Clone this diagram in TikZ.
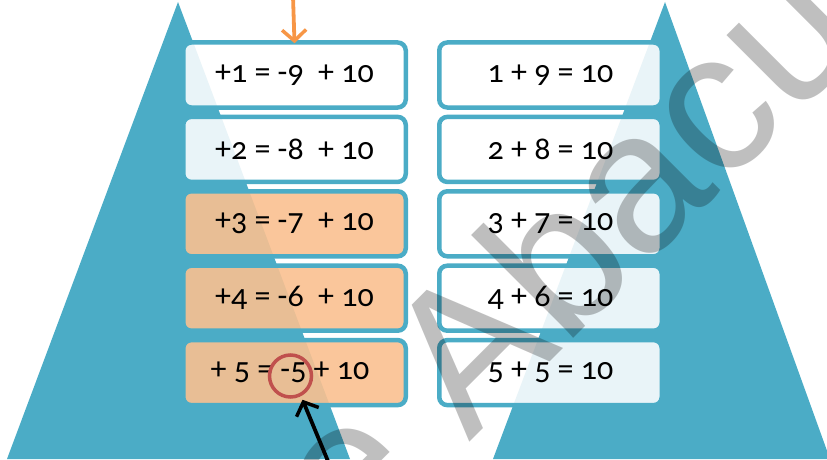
\documentclass[tikz,border=0pt]{standalone}
\usepackage{fontspec}
\setmainfont{Carlito}[Numbers=OldStyle]
\newfontfamily\wmfont{Liberation Sans}
\usetikzlibrary{arrows.meta}
\definecolor{tealA}{HTML}{4BACC6}
\definecolor{peachA}{HTML}{FAC090}
\definecolor{redA}{HTML}{C0504D}
\definecolor{orangeA}{HTML}{F79646}
\tikzset{
  eqbox/.style={draw=tealA, line width=4.5pt, rounded corners=8pt, fill=white, fill opacity=0.88, text opacity=1,
    minimum width=222.5pt, minimum height=65pt, inner sep=0pt, font=\fontsize{32}{36}\selectfont},
  hotbox/.style={eqbox, fill=peachA, fill opacity=0.9},
  tri/.style={fill=tealA, draw=none},
  barb/.style={-{Straight Barb[length=11pt,width=24pt,line width=3.5pt]}, line width=3.8pt},
}
\begin{document}
\begin{tikzpicture}[x=1pt,y=-1pt]
\useasboundingbox (0,0) rectangle (827,460);
\clip (0,0) rectangle (827,460);
% triangles
\fill[tri] (7,459) -- (178,2) -- (350,459) -- cycle;
\fill[tri] (493,459) -- (665,2) -- (830,459) -- cycle;
% left column
\node[eqbox]  (L1) at (294.5,75)    {+1 = -9\ \ + 10};
\node[eqbox]  (L2) at (294.5,149.4) {+2 = -8\ \ + 10};
\node[hotbox] (L3) at (294.5,223.8) {+3 = -7\ \ + 10};
\node[hotbox] (L4) at (294.5,298.2) {+4 = -6\ \ + 10};
\node[hotbox] (L5) at (294.5,372.6) {+ 5 = -5 + 10\hspace*{9pt}};
% right column
\node[eqbox] (R1) at (550.5,75)    {1 + 9 = 10};
\node[eqbox] (R2) at (550.5,149.4) {2 + 8 = 10};
\node[eqbox] (R3) at (550.5,223.8) {3 + 7 = 10};
\node[eqbox] (R4) at (550.5,298.2) {4 + 6 = 10};
\node[eqbox] (R5) at (550.5,372.6) {5 + 5 = 10};
% red circle
\node[draw=redA, line width=3.5pt, circle, minimum size=42pt, inner sep=0pt] (c5) at (290.5,376) {};
% arrows
\coordinate (otop) at (293,-4);
\draw[barb, draw=orangeA] (otop) -- ([yshift=-3pt]L1.north);
\coordinate (bbot) at (330,466);
\draw[barb, draw=black] (bbot) -- ([xshift=12pt,yshift=-1pt]c5.south);
% watermark
\node[rotate=45, anchor=base west, inner sep=0pt, text=black, text opacity=0.25,
  font=\wmfont\fontsize{200}{200}\selectfont] (wm) at (352,560) {e Abacus};
\end{tikzpicture}
\end{document}
